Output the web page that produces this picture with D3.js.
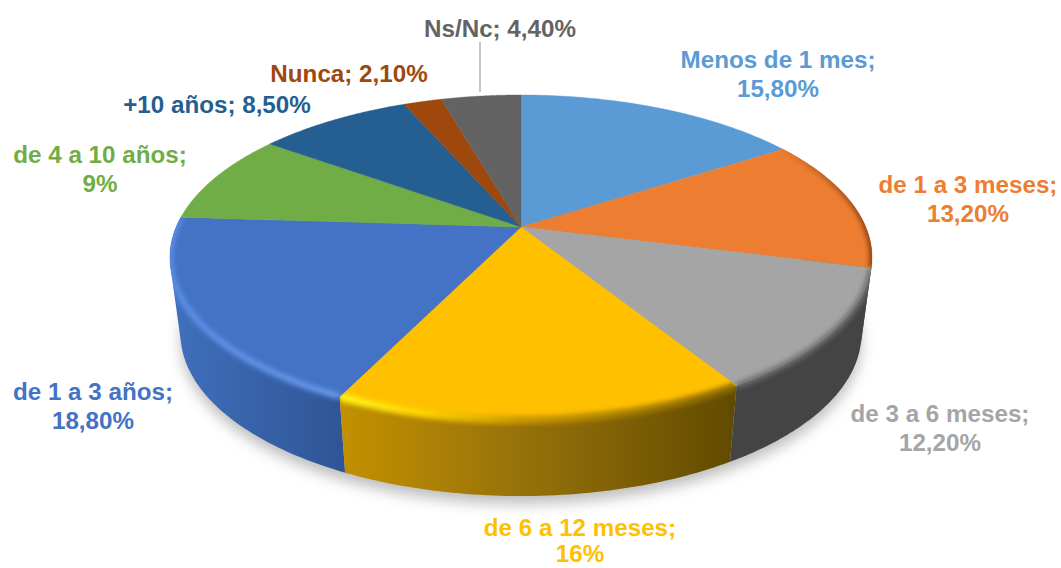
<!DOCTYPE html>
<html><head><meta charset="utf-8">
<script src="https://cdn.jsdelivr.net/npm/d3@7/dist/d3.min.js"></script>
<style>html,body{margin:0;padding:0;background:#fff}svg{display:block}text{font-family:"Liberation Sans",Arial,sans-serif;font-weight:700;font-size:24.2px;text-anchor:middle}</style>
</head><body><svg id="c" width="1061" height="568"></svg>
<script>
const categories=["Menos de 1 mes","de 1 a 3 meses","de 3 a 6 meses","de 6 a 12 meses","de 1 a 3 años","de 4 a 10 años","+10 años","Nunca","Ns/Nc"];
const values=[15.8,13.2,12.2,16,18.8,9,8.5,2.1,4.4];
const colors=["#5b9bd5","#ed7d31","#a5a5a5","#ffc000","#4472c4","#70ad47","#255e91","#9e480e","#636363"];
const labelAnchors=[[778,68,29],[968,193,29],[940,422,29],[580,536,26],[93,400,29],[100,163,29],[217,113,0],[349,82,0],[500,37,0]];
const fmt=v=>(Number.isInteger(v)?String(v):v.toFixed(2).replace(".",","))+"%";

const cx=521,cy=227,k=-0.1877,A=156.8,B=344.8,depth=76,bottomScale=0.97;
const project=(a,ring)=>{const u=Math.sin(a),v=-Math.cos(a),d=1+k*v;
  const s=ring?bottomScale:1;
  return [cx+s*B*u/d, cy+A*v/d+(ring?depth:0)];};
const svg=d3.select("#c"),defs=svg.append("defs");
const blur=(id,sd)=>defs.append("filter").attr("id",id).attr("x","-20%").attr("y","-20%").attr("width","140%").attr("height","140%")
  .append("feGaussianBlur").attr("stdDeviation",sd);
blur("b3",2.8);blur("b8",7);
const line=d3.line();
const arcPts=(a0,a1,ring)=>d3.range(0,61).map(i=>project(a0+(a1-a0)*i/60,ring));
const arcs=d3.pie().sort(null).startAngle(0).endAngle(2*Math.PI)(values);

// soft ground shadow
svg.append("path").attr("d",line(arcPts(0,2*Math.PI,true))+"Z").attr("transform","translate(0,8)")
  .attr("fill","#bdbdbd").attr("filter","url(#b8)");

const grad=(id,stops)=>{const g=defs.append("linearGradient").attr("id",id).attr("gradientUnits","userSpaceOnUse")
  .attr("x1",170).attr("x2",872).attr("y1",0).attr("y2",0);
  stops.forEach(s=>g.append("stop").attr("offset",s[0]).attr("stop-color",s[1]).attr("stop-opacity",s[2]===undefined?1:s[2]));return "url(#"+id+")";};
const wallFill={
  1:"#7a3d14",2:"#444444",
  3:grad("w3",[[0.244,"#c29000"],[0.5,"#97720a"],[0.8,"#624b00"]]),
  4:grad("w4",[[0,"#4070bd"],[0.245,"#2f5596"]])
};
const rim={
  1:grad("r1",[[0.86,"#6b3410",0],[1,"#5c2c0c",1]]),
  2:grad("r2",[[0.8,"#6e6e6e",1],[1,"#6e6e6e",1]]),
  3:grad("r3",[[0.245,"#fff41a",1],[0.36,"#ffd400",1],[0.5,"#c79600",1],[0.8,"#8a6900",1]]),
  4:grad("r4",[[0,"#5a90e6",1],[0.245,"#6a9cee",1]])
};
const wallHull=d=>d3.polygonHull(arcPts(d.startAngle,d.endAngle,false).concat(arcPts(d.startAngle,d.endAngle,true)));

const order=[0,1,8,7,6,5,2,4,3];
order.forEach(i=>{const d=arcs[i];
  if(wallFill[i]===undefined)return;
  svg.append("path").attr("d",line(wallHull(d))+"Z").attr("fill",wallFill[i]);
});
arcs.forEach((d,i)=>{
  const top=arcPts(d.startAngle,d.endAngle,false);
  const face=line([[cx,cy]].concat(top))+"Z";
  svg.append("path").attr("d",face).attr("fill",colors[i]).attr("stroke",colors[i]).attr("stroke-width",0.4);
  if(rim[i]){
    const cp=defs.append("clipPath").attr("id","cp"+i);
    cp.append("path").attr("d",face);
    cp.append("path").attr("d",line(wallHull(d))+"Z");
    svg.append("g").attr("clip-path","url(#cp"+i+")").append("path").attr("d",line(top)).attr("fill","none")
      .attr("stroke",rim[i]).attr("stroke-width",i===1?4:(i===3?8:6)).attr("filter","url(#b3)");
  }
});

// leader line for Ns/Nc
svg.append("line").attr("x1",480).attr("x2",480).attr("y1",42).attr("y2",92).attr("stroke","#b4b4ba").attr("stroke-width",1.5);

categories.forEach((c,i)=>{const [x,y,dy]=labelAnchors[i];
  const t=svg.append("text").attr("x",x).attr("y",y).attr("fill",colors[i]);
  if(!dy)t.text(c+"; "+fmt(values[i]));
  else{t.append("tspan").attr("x",x).text(c+";");t.append("tspan").attr("x",x).attr("dy",dy).text(fmt(values[i]));}
});
</script></body></html>
